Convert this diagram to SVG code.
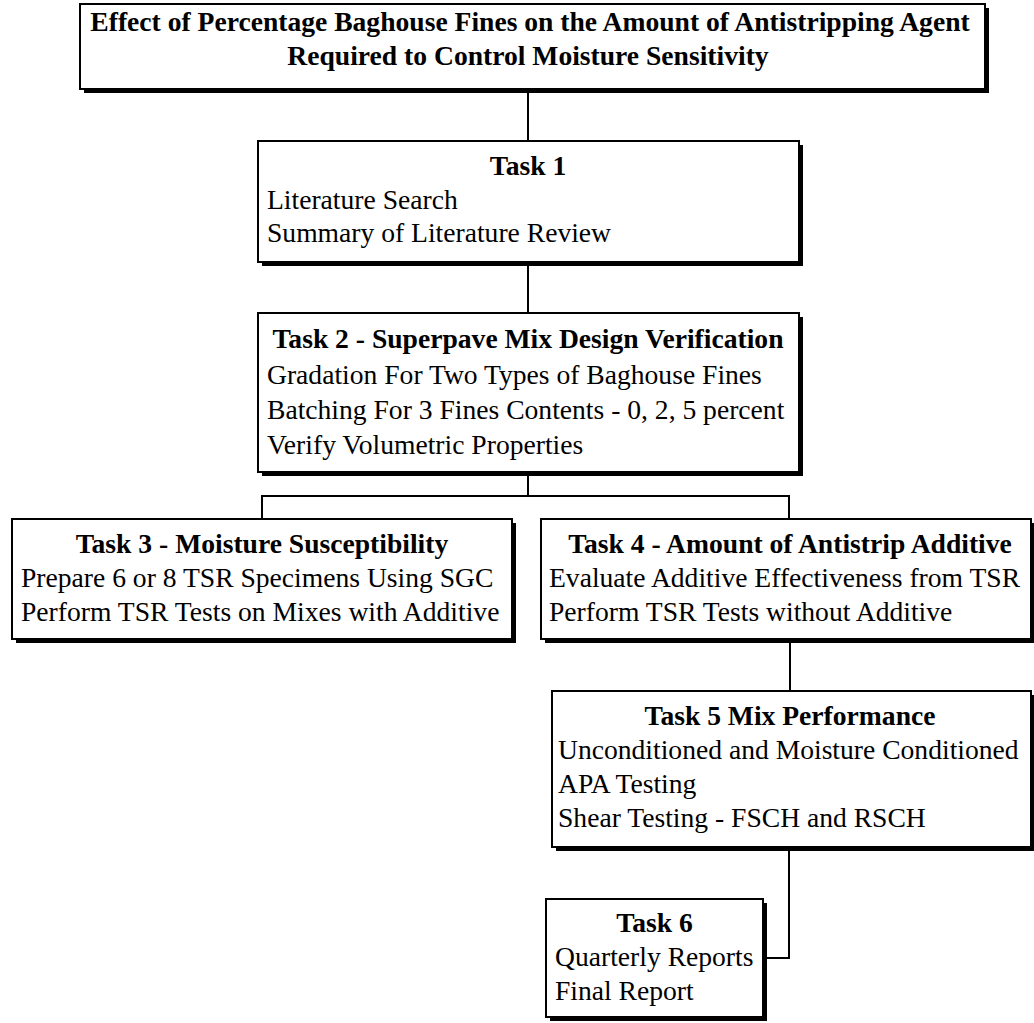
<svg xmlns="http://www.w3.org/2000/svg" width="1034" height="1023" viewBox="0 0 1034 1023">
<style>
.box{fill:#fff;stroke:#000;stroke-width:2}
.sh{fill:#000}
.t{font-family:"Liberation Serif","Times New Roman",serif;font-size:27.6px;fill:#000}
.b{font-weight:bold}
.c{text-anchor:middle}
.conn{stroke:#000;stroke-width:2;fill:none}
</style>
<rect width="1034" height="1023" fill="#fff"/>
<g id="connectors">
<path class="conn" d="M528,89 V141"/>
<path class="conn" d="M528,262 V313"/>
<path class="conn" d="M528,472 V496 M262,519 V496 H789 V519"/>
<path class="conn" d="M790,639 V691"/>
<path class="conn" d="M789,847 V958 H763"/>
</g>
<g id="title">
<rect class="sh" x="84" y="8" width="905" height="85"/>
<rect class="box" x="80" y="4" width="905" height="85"/>
<text class="t b c" x="530" y="31">Effect of Percentage Baghouse Fines on the Amount of Antistripping Agent</text>
<text class="t b c" x="528" y="65">Required to Control Moisture Sensitivity</text>
</g>
<g id="task1">
<rect class="sh" x="262" y="145" width="541" height="121"/>
<rect class="box" x="258" y="141" width="541" height="121"/>
<text class="t b c" x="528" y="175">Task 1</text>
<text class="t" x="267" y="209">Literature Search</text>
<text class="t" x="267" y="242">Summary of Literature Review</text>
</g>
<g id="task2">
<rect class="sh" x="262" y="317" width="541" height="159"/>
<rect class="box" x="258" y="313" width="541" height="159"/>
<text class="t b c" x="528" y="348">Task 2 - Superpave Mix Design Verification</text>
<text class="t" x="267" y="384">Gradation For Two Types of Baghouse Fines</text>
<text class="t" x="267" y="419">Batching For 3 Fines Contents - 0, 2, 5 percent</text>
<text class="t" x="267" y="454">Verify Volumetric Properties</text>
</g>
<g id="task3">
<rect class="sh" x="16" y="523" width="500" height="120"/>
<rect class="box" x="12" y="519" width="500" height="120"/>
<text class="t b c" x="262" y="553">Task 3 - Moisture Susceptibility</text>
<text class="t" x="21" y="587">Prepare 6 or 8 TSR Specimens Using SGC</text>
<text class="t" x="21" y="621">Perform TSR Tests on Mixes with Additive</text>
</g>
<g id="task4">
<rect class="sh" x="545" y="523" width="490" height="120"/>
<rect class="box" x="541" y="519" width="490" height="120"/>
<text class="t b c" x="790" y="553">Task 4 - Amount of Antistrip Additive</text>
<text class="t" x="549" y="587">Evaluate Additive Effectiveness from TSR</text>
<text class="t" x="549" y="621">Perform TSR Tests without Additive</text>
</g>
<g id="task5">
<rect class="sh" x="556" y="695" width="479" height="156"/>
<rect class="box" x="552" y="691" width="479" height="156"/>
<text class="t b c" x="790" y="725">Task 5 Mix Performance</text>
<text class="t" x="558" y="759">Unconditioned and Moisture Conditioned</text>
<text class="t" x="558" y="793">APA Testing</text>
<text class="t" x="558" y="827">Shear Testing - FSCH and RSCH</text>
</g>
<g id="task6">
<rect class="sh" x="550" y="903" width="217" height="118"/>
<rect class="box" x="546" y="899" width="217" height="118"/>
<text class="t b c" x="654.5" y="932">Task 6</text>
<text class="t" x="555" y="966">Quarterly Reports</text>
<text class="t" x="555" y="1000">Final Report</text>
</g>
</svg>
